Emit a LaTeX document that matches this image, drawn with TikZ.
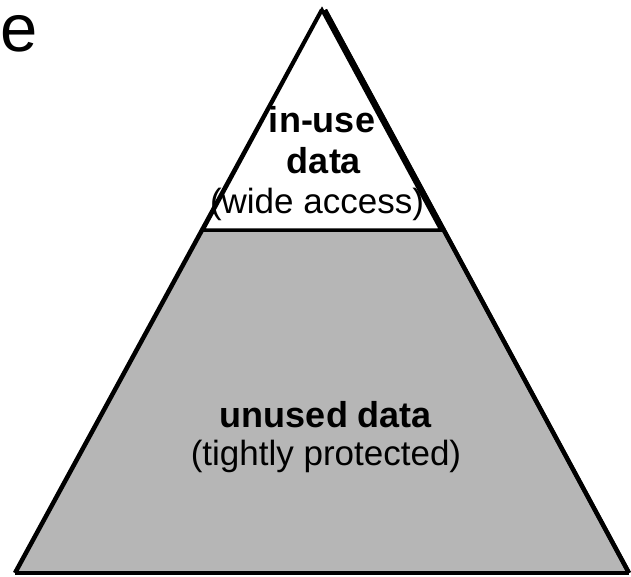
\documentclass[tikz,border=0pt]{standalone}
\usepackage{fontspec}
\setmainfont{Liberation Sans}
\definecolor{pyrgray}{RGB}{182,182,182}
\tikzset{
  lbl/.style={anchor=base, inner sep=0pt, font=\fontsize{35}{40}\selectfont},
  lblb/.style={anchor=base, inner sep=0pt, font=\fontsize{36}{40}\selectfont\bfseries},
  outline/.style={line width=4.5pt, line join=miter},
}
\begin{document}
\begin{tikzpicture}[x=1pt,y=-1pt]
\useasboundingbox (0,0) rectangle (631,576);
% big gray triangle
\coordinate (apex) at (322,10);
\coordinate (bl) at (15,573);
\coordinate (br) at (629,573);
\fill[pyrgray] (apex) -- (bl) -- (br) -- cycle;
\draw[outline] (bl) -- (br);
\draw[outline] (apex) -- (bl);
\draw[outline] (325,10) -- (br);
% white top triangle
\coordinate (tl) at (203,230);
\coordinate (tr) at (441,230);
\filldraw[fill=white, line width=3.5pt, line join=miter] (apex) -- (tl) -- (tr) -- cycle;
\draw[line width=4pt] (325,10) -- (br);
% texts
\node[lblb] (inuse) at (322,132) {in-use};
\node[lblb] (data) at (324,173) {data};
\node[lbl] (wide) at (317,213) {(wide access)};
\node[lblb] (unused) at (326,427) {unused data};
\node[lbl] (tight) at (326,465) {(tightly protected)};
% stray letter at top left
\node[anchor=base west, inner sep=0pt, font=\fontsize{67}{70}\selectfont] (e) at (0.5,51) {e};
\end{tikzpicture}
\end{document}
